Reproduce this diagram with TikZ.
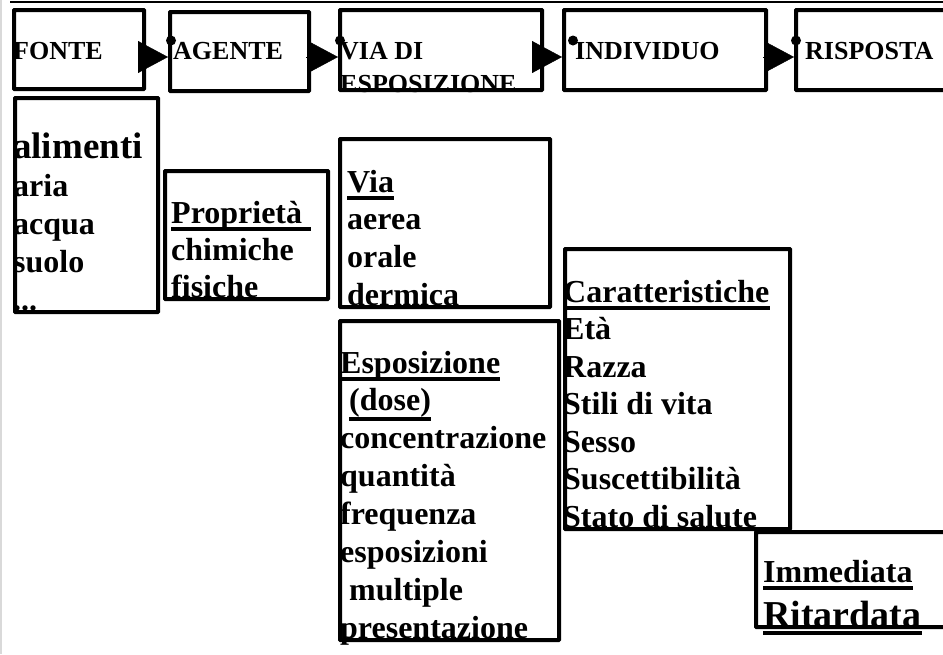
\documentclass[tikz,border=0pt]{standalone}
\usepackage{fontspec}
\setmainfont{Liberation Serif}
\usetikzlibrary{arrows.meta}

\tikzset{
    box/.style={draw, line width=4pt, rounded corners=0.5pt, anchor=north west, inner sep=0pt},
    voce/.style={anchor=base west, inner sep=0pt, font=\bfseries\fontsize{32}{38}\selectfont},
    titolo/.style={voce, font=\bfseries\fontsize{26}{30}\selectfont},
    grande/.style={voce, font=\bfseries\fontsize{37}{42}\selectfont},
    sotto/.style={line width=4pt},
    freccia/.style={line width=0.4pt, -{Triangle[length=30pt, width=32pt]}}
}

\begin{document}
\begin{tikzpicture}[x=1pt, y=-1pt]
    \useasboundingbox (0,0) rectangle (943,654);
    \clip (0,0) rectangle (943,654);
    \draw[gray!30, line width=1.5pt] (1,0) -- (1,654);
    \draw[line width=2pt] (10,2) -- (943,2);
    % top row
    \node[box, minimum width=130pt, minimum height=79pt] (fonte) at (12,8) {};
    \node[box, minimum width=139pt, minimum height=79pt] (agente) at (168,10) {};
    \node[box, minimum width=202pt, minimum height=80pt] (via) at (338,8) {};
    \node[box, minimum width=202pt, minimum height=80pt] (individuo) at (562,8) {};
    \node[box, minimum width=200pt, minimum height=80pt] (risposta) at (794,8) {};
    \node[titolo] (tfonte) at (13,59) {FONTE};
    \node[titolo] (tagente) at (173,59) {AGENTE};
    \node[titolo] (tvia) at (340,59) {VIA DI};
    \node[titolo] (tvia2) at (340,92) {ESPOSIZIONE};
    \node[titolo] (tindividuo) at (575,59) {INDIVIDUO};
    \node[titolo] (trisposta) at (805,59) {RISPOSTA};
    \coordinate (riga) at (0,57);
    \coordinate (punti) at (0,40.5);
    \foreach \from/\to in {fonte/agente, agente/via, via/individuo, individuo/risposta}
        \draw[freccia] ([xshift=-5pt]\from.east |- riga) -- (\to.west |- riga);
    \foreach \to/\dx in {agente/3, via/2, individuo/11, risposta/2}
        \fill ([xshift=\dx pt]\to.west |- punti) circle[radius=5pt];
    % lower boxes
    \node[box, minimum width=143pt, minimum height=214pt] (sorgenti) at (13,96) {};
    \node[box, minimum width=163pt, minimum height=128pt] (proprieta) at (163,169) {};
    \node[box, minimum width=210pt, minimum height=168pt] (vie) at (338,137) {};
    \node[box, minimum width=219pt, minimum height=319pt] (esposizione) at (338,319) {};
    \node[box, minimum width=225pt, minimum height=280pt] (caratteristiche) at (563,247) {};
    \node[box, minimum width=250pt, minimum height=95pt] (risposte) at (754,530) {};
    % texts
    \node[grande] (talimenti) at (13,158) {alimenti};
    \foreach \t [count=\i] in {aria, acqua, suolo}
        \node[voce] (ts\i) at (13,158+38*\i) {\t};
    \node[voce] (tpunti) at (13,310) {{...}};
    \node[voce] (tprop) at (171,223) {Proprietà};
    \node[voce] (tchim) at (171,260) {chimiche};
    \node[voce] (tfis) at (171,297) {fisiche};
    \node[voce] (tvie) at (347,192) {Via};
    \foreach \t [count=\i] in {aerea, orale, dermica}
        \node[voce] (tv\i) at (347,192+37.7*\i) {\t};
    \node[voce] (tesp) at (340,373) {Esposizione};
    \node[voce] (tdose) at (349,410) {(dose)};
    \node[voce] (te1) at (340,448) {concentrazione};
    \node[voce] (te2) at (340,486) {quantità};
    \node[voce] (te3) at (340,524) {frequenza};
    \node[voce] (te4) at (340,562) {esposizioni};
    \node[voce] (te5) at (349,600) {multiple};
    \node[voce] (te6) at (340,638) {presentazione};
    \node[voce] (tcar) at (563,302) {Caratteristiche};
    \foreach \t [count=\i] in {Età, Razza, Stili di vita, Sesso, Suscettibilità, Stato di salute}
        \node[voce] (tc\i) at (563,302+37.5*\i) {\t};
    \node[voce] (timm) at (763,582) {Immediata};
    \node[voce, font=\bfseries\fontsize{38}{42}\selectfont] (trit) at (763,627) {Ritardata};
    % underlines
    \foreach \n in {tvie, tesp, tcar, timm, trit}
        \draw[sotto] ([yshift=-6pt]\n.base west) -- ([yshift=-6pt]\n.base east);
    \draw[sotto] ([yshift=-6pt]tprop.base west) -- ([shift={(9pt,-6pt)}]tprop.base east);
    \draw[sotto] ([yshift=-9pt]tdose.base west) -- ([yshift=-9pt]tdose.base east);
\end{tikzpicture}
\end{document}
